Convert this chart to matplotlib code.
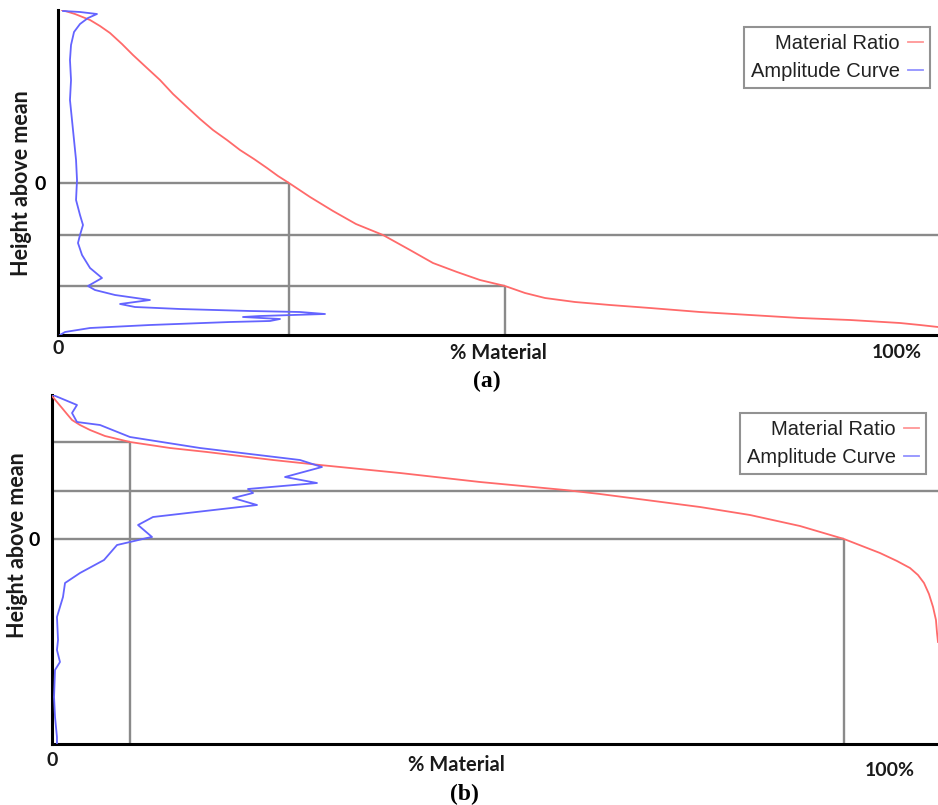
import matplotlib
matplotlib.use('Agg')
import matplotlib.pyplot as plt

# ---------------- data ----------------
# Panel (a)
a_mr_pct = [0.45, 1.93, 3.64, 4.77, 5.91, 7.27, 8.52, 10.11, 11.59, 13.07, 14.66, 16.14,
            17.61, 19.2, 20.68, 22.27, 23.75, 25.0, 26.25, 28.64, 31.25, 33.86, 36.93,
            40.0, 42.61, 45.34, 47.95, 50.8, 53.07, 55.34, 58.75, 62.73, 67.27, 72.95,
            78.64, 84.32, 90.0, 95.68, 97.95, 100.0]
a_mr_h = [17.3, 16.9, 16.3, 15.7, 15.0, 13.9, 12.8, 11.5, 10.3, 8.9, 7.6, 6.4, 5.3, 4.3,
          3.3, 2.4, 1.5, 0.7, 0.0, -1.4, -2.8, -4.1, -5.2, -6.7, -8.0, -8.9, -9.7, -10.3,
          -11.0, -11.5, -11.9, -12.2, -12.5, -12.9, -13.2, -13.5, -13.7, -14.0, -14.2, -14.4]
a_amp = [0.57, 2.5, 4.43, 3.41, 2.5, 1.82, 1.48, 1.36, 1.48, 1.36, 1.59, 1.82, 2.05, 2.16,
         2.05, 2.5, 2.84, 2.5, 2.27, 2.73, 3.64, 5.0, 3.41, 4.2, 6.48, 10.45, 7.05, 8.75,
         13.86, 21.82, 27.5, 30.34, 22.95, 21.02, 25.23, 24.09, 19.55, 10.45, 3.64, 0.8, 0.23]
a_amp_h = [17.2, 17.1, 16.9, 16.5, 15.9, 15.1, 13.8, 12.3, 10.3, 8.3, 6.3, 4.3, 2.3, 0.3,
           -1.7, -3.2, -4.2, -5.2, -6.0, -7.2, -8.5, -9.5, -10.3, -10.7, -11.2, -11.7, -12.1,
           -12.4, -12.6, -12.8, -12.9, -13.1, -13.3, -13.4, -13.6, -13.8, -13.9, -14.2, -14.5,
           -14.9, -15.2]
a_levels = [0.0, -5.2, -10.3]
a_level_ends = [26.3, 100.0, 50.8]
a_vlines = [26.3, 50.8]
a_vline_tops = [0.0, -10.3]
a_ylim = (-15.2, 17.3)

# Panel (b)
b_mr_pct = [0.0, 0.56, 1.13, 1.69, 2.26, 3.16, 4.29, 5.98, 8.8, 13.32, 17.49, 21.22, 24.94,
            30.25, 39.28, 48.31, 57.9, 61.85, 73.14, 78.78, 84.42, 89.39, 91.42, 93.45,
            95.37, 96.84, 97.74, 98.42, 98.98, 99.44, 99.77, 99.89, 100.0]
b_mr_h = [14.3, 13.7, 13.1, 12.5, 11.9, 11.4, 10.9, 10.3, 9.7, 9.1, 8.7, 8.3, 7.9, 7.4,
          6.6, 5.7, 4.9, 4.5, 3.2, 2.4, 1.3, 0.0, -0.7, -1.4, -2.2, -2.9, -3.6, -4.4, -5.5,
          -6.8, -8.1, -9.4, -10.3]
b_amp = [0.11, 1.47, 2.82, 2.26, 2.82, 5.42, 8.8, 16.7, 27.99, 30.47, 26.3, 29.91, 22.12,
         22.69, 20.43, 23.14, 11.4, 9.71, 11.29, 10.72, 8.8, 7.34, 5.87, 3.16, 1.47, 1.24,
         0.56, 0.68, 0.56, 0.9, 0.34, 0.23, 0.34, 0.56, 0.56]
b_amp_h = [14.4, 13.9, 13.4, 12.6, 11.7, 11.4, 10.2, 9.1, 7.9, 7.2, 6.2, 5.6, 5.0, 4.6,
           4.1, 3.4, 2.2, 1.4, 0.2, 0.1, -0.3, -0.6, -2.1, -3.4, -4.4, -5.8, -7.8, -10.1,
           -11.1, -12.3, -13.1, -15.8, -17.8, -19.8, -20.4]
b_levels = [9.7, 4.8, 0.0]
b_level_ends = [8.8, 100.0, 89.4]
b_vlines = [8.8, 89.4]
b_vline_tops = [9.7, 0.0]
b_ylim = (-20.5, 14.4)

series_labels = ["Material Ratio", "Amplitude Curve"]
ylabel = "Height above mean"
xlabel = "% Material"
panel_labels = ["(a)", "(b)"]

# ---------------- figure ----------------
W, H = 938, 805
fig = plt.figure(figsize=(W / 100, H / 100), dpi=100)


def fx(x):
    return x / W


def fy(y):
    return 1 - y / H


RED = '#ff6a6a'
BLUE = '#6464ff'
GRID = '#8a8a8a'
LBL = dict(family='Lato', weight='bold', color='#1a1a1a')


def make_panel(rect, mr_pct, mr_h, amp, amp_h, levels, level_ends, vlines, vline_tops,
               ylim, legend_ur):
    ax = fig.add_axes(rect)
    ax.set_xlim(0, 100)
    ax.set_ylim(*ylim)
    for h, e in zip(levels, level_ends):
        ax.plot([0, e], [h, h], color=GRID, lw=1.7, zorder=1, solid_capstyle='butt')
    for v, t in zip(vlines, vline_tops):
        ax.plot([v, v], [ylim[0], t], color=GRID, lw=1.7, zorder=1, solid_capstyle='butt')
    ax.plot(mr_pct, mr_h, color=RED, lw=1.3, zorder=3, label=series_labels[0])
    ax.plot(amp, amp_h, color=BLUE, lw=1.3, zorder=3, label=series_labels[1])
    for s in ['top', 'right']:
        ax.spines[s].set_visible(False)
    for s in ['left', 'bottom']:
        ax.spines[s].set_linewidth(2.2)
        ax.spines[s].set_color('black')
    ax.set_xticks([])
    ax.set_yticks([0])
    ax.set_yticklabels(['0'], fontdict=dict(family='Lato', weight='bold', size=14))
    ax.tick_params(axis='y', length=0, pad=9)
    leg = ax.legend(loc='upper right', bbox_to_anchor=(fx(legend_ur[0]), fy(legend_ur[1])),
                    bbox_transform=fig.transFigure, markerfirst=False, frameon=True,
                    fancybox=False, borderaxespad=0, handlelength=0.75, handletextpad=0.4,
                    borderpad=0.35, labelspacing=0.45,
                    prop=dict(family='Liberation Sans', size=14.5))
    leg.get_frame().set_edgecolor('#777777')
    leg.get_frame().set_linewidth(1.5)
    for t in leg.get_texts():
        t.set_color('#222222')
    for l in leg.get_lines():
        l.set_alpha(0.7)
    return ax


ax_a = make_panel([fx(58), fy(335), fx(938 - 58), (335 - 10) / H],
                  a_mr_pct, a_mr_h, a_amp, a_amp_h, a_levels, a_level_ends,
                  a_vlines, a_vline_tops, a_ylim, (930, 27))
ax_b = make_panel([fx(52), fy(744), fx(938 - 52), (744 - 395) / H],
                  b_mr_pct, b_mr_h, b_amp, b_amp_h, b_levels, b_level_ends,
                  b_vlines, b_vline_tops, b_ylim, (926, 413))

# texts
fig.text(fx(22), fy(183), ylabel, rotation=90, ha='center', va='center', size=15.5, **LBL)
fig.text(fx(18), fy(545), ylabel, rotation=90, ha='center', va='center', size=15.5, **LBL)

fig.text(fx(58), fy(348), '0', ha='center', va='center', size=14, **LBL)
fig.text(fx(52), fy(760), '0', ha='center', va='center', size=14, **LBL)

fig.text(fx(498), fy(353), xlabel, ha='center', va='center', size=14.5, **LBL)
fig.text(fx(456), fy(765), xlabel, ha='center', va='center', size=14.5, **LBL)

fig.text(fx(897), fy(352), '100%', ha='center', va='center', size=14, **LBL)
fig.text(fx(890), fy(770), '100%', ha='center', va='center', size=14, **LBL)

fig.text(fx(487), fy(381), panel_labels[0], ha='center', va='center', size=17,
         family='Liberation Serif', weight='bold', color='black')
fig.text(fx(464), fy(794), panel_labels[1], ha='center', va='center', size=17,
         family='Liberation Serif', weight='bold', color='black')

fig.savefig('out.png', dpi=100, facecolor='white')
